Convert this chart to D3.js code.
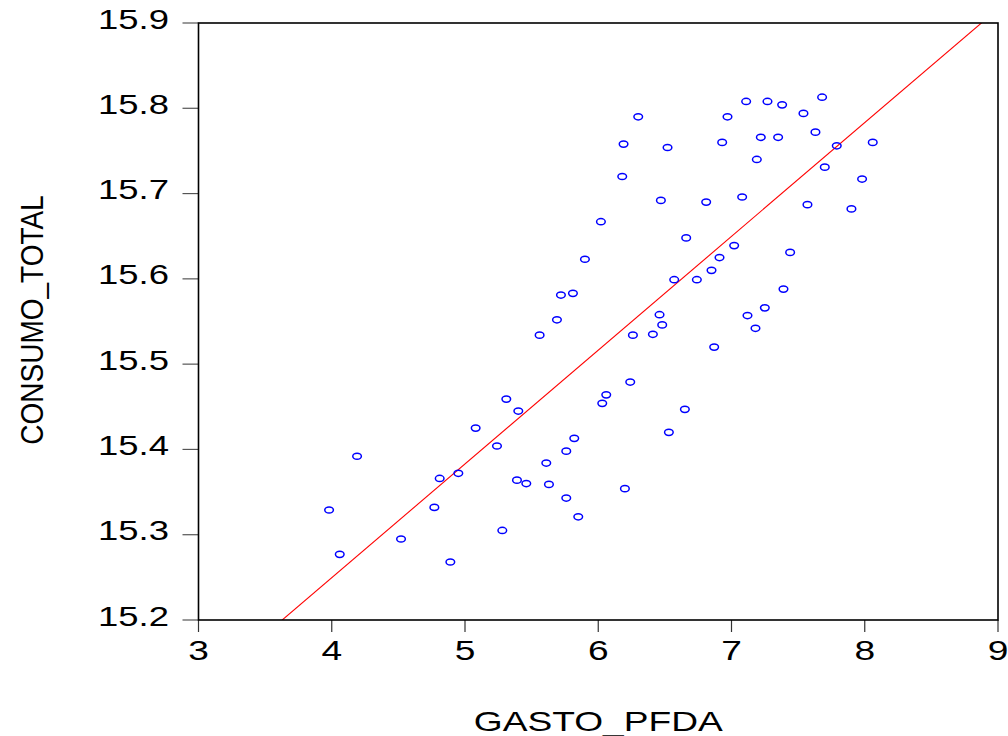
<!DOCTYPE html>
<meta charset="utf-8">
<head>
  <style>
    body { margin: 0; background: #fff; }
    svg { display: block; }
    text { font-family: "Liberation Sans", Arial, sans-serif; fill: #000; }
  </style>
</head>
<body>
<div id="chart"></div>
<script src="https://d3js.org/d3.v7.min.js"></script>
<script>

// GASTO_PFDA (x) vs CONSUMO_TOTAL (y)
var gasto = [3.98, 4.06, 4.19, 4.52, 4.77, 4.81, 4.89, 4.95, 5.08, 5.24,
             5.28, 5.31, 5.40, 5.39, 5.46, 5.56, 5.61, 5.63, 5.69, 5.72,
             5.76, 5.76, 5.81, 5.82, 5.85, 5.90, 6.02, 6.03, 6.06, 6.19,
             6.18, 6.20, 6.24, 6.26, 6.30, 6.41, 6.46, 6.47, 6.48, 6.52,
             6.53, 6.57, 6.65, 6.66, 6.74, 6.81, 6.85, 6.87, 6.91, 6.93,
             6.97, 7.02, 7.08, 7.11, 7.12, 7.18, 7.19, 7.22, 7.25, 7.27,
             7.35, 7.38, 7.39, 7.44, 7.54, 7.57, 7.63, 7.68, 7.70, 7.79,
             7.90, 7.98, 8.06];
var consumo = [15.329, 15.277, 15.392, 15.295, 15.332, 15.366, 15.268, 15.372, 15.425, 15.404,
               15.305, 15.459, 15.445, 15.364, 15.360, 15.534, 15.384, 15.359, 15.552, 15.581,
               15.398, 15.343, 15.583, 15.413, 15.321, 15.623, 15.667, 15.454, 15.464, 15.758,
               15.720, 15.354, 15.479, 15.534, 15.790, 15.535, 15.558, 15.692, 15.546, 15.754,
               15.420, 15.599, 15.447, 15.648, 15.599, 15.690, 15.610, 15.520, 15.625, 15.760,
               15.790, 15.639, 15.696, 15.808, 15.557, 15.542, 15.740, 15.766, 15.566, 15.808,
               15.766, 15.804, 15.588, 15.631, 15.794, 15.687, 15.772, 15.813, 15.731, 15.756,
               15.682, 15.717, 15.760];

// fitted line  consumo = a + b * gasto
var fitIntercept = 14.716, fitSlope = 0.1334;

var xTicks = [3, 4, 5, 6, 7, 8, 9];
var yTicks = [15.2, 15.3, 15.4, 15.5, 15.6, 15.7, 15.8, 15.9];

var W = 1008, H = 736;
var plotL = 198.5, plotR = 998, plotT = 23, plotB = 620;
var stretch = 1.35; // labels in the picture are drawn wide

var x = d3.scaleLinear().domain([3, 9]).range([plotL, plotR]);
var y = d3.scaleLinear().domain([15.2, 15.9]).range([plotB, plotT]);

var svg = d3.select("#chart").append("svg")
    .attr("width", W)
    .attr("height", H);

svg.append("clipPath").attr("id", "plot")
  .append("rect")
    .attr("x", plotL).attr("y", plotT)
    .attr("width", plotR - plotL).attr("height", plotB - plotT);

// ticks
svg.selectAll(".ytick").data(yTicks).enter().append("line")
    .attr("x1", plotL - 16).attr("x2", plotL)
    .attr("y1", function(d) { return y(d); })
    .attr("y2", function(d) { return y(d); })
    .attr("stroke", "#555").attr("stroke-width", 1.2);

svg.selectAll(".xtick").data(xTicks).enter().append("line")
    .attr("x1", function(d) { return x(d); })
    .attr("x2", function(d) { return x(d); })
    .attr("y1", plotB).attr("y2", plotB + 12)
    .attr("stroke", "#333").attr("stroke-width", 1.2);

svg.selectAll(".ylab").data(yTicks).enter().append("text")
    .attr("transform", function(d) { return "translate(169," + (y(d) + 5.5) + ") scale(" + stretch + ",1)"; })
    .attr("text-anchor", "end")
    .style("font-size", "27px")
    .text(function(d) { return d3.format(".1f")(d); });

svg.selectAll(".xlab").data(xTicks).enter().append("text")
    .attr("transform", function(d) { return "translate(" + x(d) + "," + (plotB + 40) + ") scale(" + stretch + ",1)"; })
    .attr("text-anchor", "middle")
    .style("font-size", "27.5px")
    .text(function(d) { return d; });

// axis titles
svg.append("text")
    .attr("transform", "translate(" + (plotL + plotR) / 2 + ",731) scale(" + stretch + ",1)")
    .attr("text-anchor", "middle")
    .style("font-size", "27.5px")
    .text("GASTO_PFDA");

svg.append("text")
    .attr("transform", "translate(42.5,320) scale(1.1,1) rotate(-90)")
    .attr("text-anchor", "middle")
    .style("font-size", "28px")
    .text("CONSUMO_TOTAL");

// regression line
svg.append("line")
    .attr("clip-path", "url(#plot)")
    .attr("x1", x(3)).attr("y1", y(fitIntercept + fitSlope * 3))
    .attr("x2", x(9)).attr("y2", y(fitIntercept + fitSlope * 9))
    .attr("stroke", "#ff0000").attr("stroke-width", 1.1);

// points
svg.selectAll(".pt").data(d3.range(gasto.length)).enter().append("ellipse")
    .attr("cx", function(i) { return x(gasto[i]); })
    .attr("cy", function(i) { return y(consumo[i]); })
    .attr("rx", 4.3).attr("ry", 3.1)
    .attr("fill", "none")
    .attr("stroke", "#0000ff")
    .attr("stroke-width", 1.5);

// frame
svg.append("rect")
    .attr("x", plotL).attr("y", plotT)
    .attr("width", plotR - plotL).attr("height", plotB - plotT)
    .attr("fill", "none")
    .attr("stroke", "#000")
    .attr("stroke-width", 1.6);

</script>
</body>
